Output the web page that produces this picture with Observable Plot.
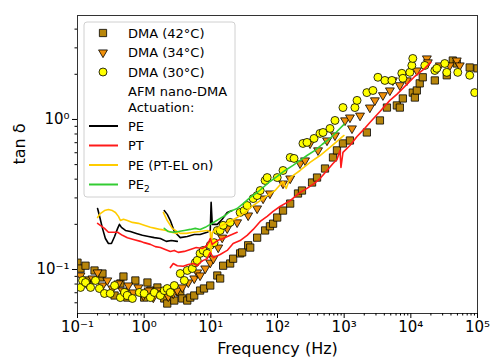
<!DOCTYPE html>
<html>
<head>
<meta charset="utf-8">
<script src="https://cdn.jsdelivr.net/npm/d3@7"></script>
<script src="https://cdn.jsdelivr.net/npm/@observablehq/plot@0.6"></script>
<style>
  html, body { margin: 0; padding: 0; background: #fff; }
  #chart { width: 492px; height: 358px; }
  svg { font-family: "DejaVu Sans", sans-serif; }
</style>
</head>
<body>
<div id="chart"></div>
<script>
// ---- DMA data (frequency in Hz, tan delta) ----
const dma42F = [0.1,0.111,0.132,0.141,0.18,0.22,0.237,0.36,0.44,0.489,0.56,0.738,1.0,1.12,1.24,1.58,2.0,2.22,2.83,3.48,3.73,4.43,4.92,5.64,6.9,7.9,9.8,12.5,13.8,15.3,19.5,21.6,27.5,29.5,36.3,39,49.5,65.2,77,85.9,99,121,155,203,233,330,392,516,680,780,959,1220,2190,3440,4380,6170,6840,7590,10700,11500,12300,13600,15100,22900,34600,42600,48900,76400,100000];
const dma42T = [0.111,0.1015,0.106,0.0845,0.0985,0.0885,0.094,0.0671,0.0807,0.0898,0.065,0.0845,0.065,0.0819,0.0724,0.0759,0.0641,0.0593,0.0621,0.0703,0.0641,0.0621,0.065,0.0671,0.0724,0.0747,0.0782,0.0912,0.0871,0.106,0.1096,0.118,0.128,0.130,0.145,0.140,0.163,0.182,0.194,0.202,0.222,0.247,0.275,0.321,0.336,0.38,0.41,0.471,0.558,0.622,0.692,0.724,0.819,0.985,1.20,1.24,1.20,1.38,1.51,1.40,1.56,1.74,1.91,1.82,1.97,2.47,2.36,2.22,2.19];

const dma34F = [0.111,0.136,0.168,0.20,0.237,0.28,0.334,0.411,0.472,0.58,0.689,0.819,0.973,1.16,1.37,1.58,1.87,2.3,2.73,3.14,3.73,4.59,5.64,6.25,6.9,8.24,9.8,10.9,12.9,14.8,17.6,24.8,36.3,49.5,60.8,77,121,155,218,259,308,406,553,728,1030,1220,1310,1730,2430,2890,3810,4850,5380,6840,8710,12300,17400,18000,27200,38400,48900,54200];
const dma34T = [0.0912,0.0807,0.0871,0.0955,0.0782,0.0845,0.0747,0.0807,0.0724,0.0782,0.0703,0.0759,0.0671,0.0724,0.065,0.0724,0.0692,0.0661,0.0692,0.0724,0.0759,0.0819,0.0871,0.0955,0.0912,0.1015,0.111,0.118,0.140,0.163,0.188,0.206,0.229,0.255,0.297,0.321,0.374,0.404,0.509,0.533,0.692,0.622,0.724,0.782,0.985,1.03,0.871,1.06,1.20,1.34,1.45,1.56,1.82,1.69,1.82,2.12,2.55,2.40,2.29,2.29,2.47,2.29];

const dma30F = [0.111,0.119,0.132,0.157,0.186,0.213,0.254,0.31,0.36,0.44,0.51,0.56,0.665,0.847,1.0,1.24,1.42,1.75,2.0,2.22,2.47,2.83,3.48,4.0,4.43,5.27,5.84,6.25,6.9,7.69,8.8,9.8,11.2,12.5,13.8,15.3,19.5,27.5,31.6,35,43.2,49.5,55,65.2,70,99,121,155,177,241,277,353,434,482,613,728,959,1450,1560,2190,2700,3210,4080,5200,7330,7590,9660,10350,10700,16200,22900,24500,32300,34600,50600,76400,90800];
const dma30T = [0.0759,0.0845,0.0819,0.0759,0.0845,0.0747,0.0692,0.0692,0.0782,0.065,0.0703,0.0671,0.0641,0.0703,0.0692,0.065,0.0703,0.0671,0.0724,0.0747,0.0703,0.0782,0.094,0.0845,0.0985,0.1015,0.111,0.115,0.128,0.134,0.128,0.145,0.151,0.182,0.182,0.197,0.206,0.240,0.247,0.267,0.297,0.311,0.336,0.392,0.410,0.41,0.457,0.558,0.55,0.692,0.703,0.747,0.807,0.819,0.871,0.985,1.20,1.20,1.34,1.51,1.56,1.91,1.82,1.82,2.03,1.88,2.06,2.29,2.55,2.29,2.12,2.19,2.36,2.06,2.06,1.97,1.51];

// ---- AFM nano-DMA curves ----
const peF1 = [0.20,0.213,0.237,0.262,0.291,0.323,0.36,0.40,0.426,0.456,0.524,0.62,0.764,0.94,1.16,1.42,1.75,2.15,2.55,3.14];
const peT1 = [0.255,0.229,0.188,0.161,0.149,0.149,0.166,0.188,0.20,0.191,0.182,0.179,0.174,0.169,0.166,0.163,0.161,0.154,0.156,0.154];
const peF2 = [2.0,2.22,2.47,2.83,3.48,4.43,5.64,6.9,8.8,9.8,10.1,10.5,12.5,14.8,17.6,20.9];
const peT2 = [0.247,0.233,0.212,0.179,0.163,0.166,0.171,0.171,0.177,0.182,0.280,0.20,0.20,0.216,0.240,0.247];

const ptF1 = [0.20,0.22,0.254,0.291,0.334,0.40,0.472,0.56,0.713,0.88,1.0,1.24,1.47,1.75,2.07,2.47,2.83,3.25,4.0,4.92,6.04,7.43,8.8,9.8,10.5,12.5,15.3,19.5,24.8];
const ptT1 = [0.203,0.197,0.188,0.177,0.177,0.177,0.169,0.163,0.158,0.154,0.151,0.147,0.142,0.140,0.136,0.132,0.134,0.130,0.132,0.136,0.140,0.138,0.145,0.161,0.147,0.156,0.161,0.169,0.177];
const ptF2 = [2.47,2.73,3.14,3.86,4.59,5.45,6.25,6.9,7.69,8.8,9.8,10.9,13.8,17.6,21.6,27.5,35,43.2,55,70,85.9,109,155,218,277,353,434,553,680,780,865,895,959,1220,1560,1910,2430,3440,4850,6170,8130,11500,16200,19900];
const ptT2 = [0.103,0.1096,0.106,0.105,0.108,0.1096,0.106,0.111,0.115,0.118,0.130,0.120,0.126,0.134,0.149,0.156,0.169,0.185,0.209,0.226,0.244,0.263,0.288,0.326,0.347,0.374,0.404,0.457,0.509,0.541,0.622,0.479,0.603,0.671,0.77,0.845,0.955,1.13,1.34,1.47,1.66,1.94,2.19,2.40];

const elF1 = [0.20,0.22,0.254,0.291,0.334,0.371,0.411,0.44,0.489,0.56,0.665,0.819,1.0,1.24,1.47,1.75,2.15,2.55,3.14];
const elT1 = [0.222,0.236,0.247,0.251,0.247,0.240,0.226,0.212,0.216,0.212,0.206,0.203,0.197,0.191,0.188,0.185,0.182,0.177,0.174];
const elF2 = [1.94,2.22,2.64,3.48,4.29,5.45,6.9,8.8,9.8,10.1,10.5,13.8,19.5,24.8,32.7,43.2,55,70,92,121,135,155,218,308,434,613,780,993];
const elT2 = [0.240,0.212,0.188,0.174,0.174,0.177,0.179,0.182,0.179,0.130,0.177,0.194,0.209,0.222,0.240,0.267,0.288,0.311,0.336,0.386,0.347,0.410,0.457,0.517,0.575,0.651,0.714,0.782];

const pe2F = [2.0,2.3,2.73,3.25,4.0,4.92,5.84,6.9,8.24,9.8,11.6,13.8,16.4,19.5,24.8,30.5,39,49.5,60.8,77,99,130,171,218,277,365,466,613,780,993];
const pe2T = [0.188,0.179,0.177,0.179,0.182,0.185,0.188,0.185,0.191,0.20,0.209,0.219,0.229,0.244,0.255,0.275,0.302,0.326,0.352,0.386,0.417,0.457,0.494,0.533,0.575,0.622,0.681,0.747,0.832,0.927];

// ---- tick values and labels ----
const xMajor = [0.1, 1, 10, 100, 1000, 10000, 100000];
const xMajorLabels = ["10⁻¹", "10⁰", "10¹", "10²", "10³", "10⁴", "10⁵"];
const yMajor = [0.1, 1];
const yMajorLabels = ["10⁻¹", "10⁰"];
const decadesX = [0.1, 1, 10, 100, 1000, 10000];
const decadesY = [0.01, 0.1, 1];
const xMinor = decadesX.flatMap(d => [2,3,4,5,6,7,8,9].map(m => m * d));
const yMinor = decadesY.flatMap(d => [2,3,4,5,6,7,8,9].map(m => m * d)).filter(v => v > 0.0509 && v < 4.93);

const legendItems = ["DMA (42°C)", "DMA (34°C)", "DMA (30°C)", "AFM nano-DMA", "Actuation:", "PE", "PT", "PE (PT-EL on)", "PE₂"];

// ---- build tables ----
const pts = (F, T) => F.map((f, i) => ({f, t: T[i]}));
const seg = (F, T, s) => F.map((f, i) => ({f, t: T[i], s}));
const xLab = new Map(xMajor.map((v, i) => [v, xMajorLabels[i]]));
const yLab = new Map(yMajor.map((v, i) => [v, yMajorLabels[i]]));

const C42 = "#b8860b", C34 = "#f0900a", C30 = "#ffff00";
const LBLACK = "#000000", LRED = "#ff1a1a", LYEL = "#ffcc00", LGRN = "#33cc33";

const lineOpts = (stroke) => ({x: "f", y: "t", z: "s", stroke, strokeWidth: 1.6, clip: true});

const chart = Plot.plot({
  width: 492,
  height: 358,
  marginLeft: 77,
  marginRight: 15,
  marginTop: 15,
  marginBottom: 45,
  x: {type: "log", domain: [0.1, 1e5]},
  y: {type: "log", domain: [0.0509, 4.93]},
  style: {fontFamily: "DejaVu Sans", fontSize: "15px", color: "#000", background: "#fff", overflow: "visible"},
  marks: [
    Plot.dot(pts(dma42F, dma42T), {x: "f", y: "t", symbol: "square", r: 4.1, fill: C42, stroke: "#000", strokeWidth: 0.8, clip: true}),
    Plot.dot(pts(dma34F, dma34T), {x: "f", y: "t", symbol: "triangle", rotate: 180, r: 3.3, fill: C34, stroke: "#000", strokeWidth: 0.8, clip: true}),
    Plot.dot(pts(dma30F, dma30T), {x: "f", y: "t", symbol: "circle", r: 4, fill: C30, stroke: "#000", strokeWidth: 0.8, clip: true}),
    Plot.line([...seg(peF1, peT1, "a"), ...seg(peF2, peT2, "b")], lineOpts(LBLACK)),
    Plot.line([...seg(elF1, elT1, "a"), ...seg(elF2, elT2, "b")], lineOpts(LYEL)),
    Plot.line([...seg(ptF1, ptT1, "a"), ...seg(ptF2, ptT2, "b")], lineOpts(LRED)),
    Plot.line(seg(pe2F, pe2T, "a"), lineOpts(LGRN)),
    Plot.frame({stroke: "#333", strokeWidth: 1}),
    Plot.axisX(xMinor, {anchor: "bottom", tickSize: 2.5, tickFormat: () => "", label: null}),
    Plot.axisY(yMinor, {anchor: "left", tickSize: 2.5, tickFormat: () => "", label: null}),
    Plot.axisX(xMajor, {anchor: "bottom", tickSize: 5, tickPadding: 3, tickFormat: d => xLab.get(d), fontSize: 15, label: null}),
    Plot.axisY(yMajor, {anchor: "left", tickSize: 5, tickPadding: 3, tickFormat: d => yLab.get(d), fontSize: 15, label: null}),
    Plot.text(["Frequency (Hz)"], {frameAnchor: "bottom", dy: 35, fontSize: 16, lineAnchor: "middle"}),
    Plot.text(["tan δ"], {frameAnchor: "left", dx: -58, rotate: -90, fontSize: 16, lineAnchor: "middle"})
  ]
});
document.getElementById("chart").appendChild(chart);

// ---- legend ----
const svg = d3.select(chart);
const lg = svg.append("g").attr("font-family", "DejaVu Sans").attr("font-size", 13).attr("text-anchor", "start");
lg.append("rect").attr("x", 84).attr("y", 22).attr("width", 151).attr("height", 175)
  .attr("rx", 3).attr("fill", "#fff").attr("fill-opacity", 0.85).attr("stroke", "#d0d0d0");
const ys = [33, 52.5, 72, 91.5, 107, 126, 145.5, 165, 184.5];
const sym = d3.symbol();
lg.append("path").attr("d", sym.type(d3.symbolSquare).size(Math.PI * 4.1 * 4.1)()).attr("transform", `translate(103,${ys[0]})`)
  .attr("fill", C42).attr("stroke", "#000").attr("stroke-width", 0.8);
lg.append("path").attr("d", sym.type(d3.symbolTriangle).size(Math.PI * 3.3 * 3.3)()).attr("transform", `translate(103,${ys[1]}) rotate(180)`)
  .attr("fill", C34).attr("stroke", "#000").attr("stroke-width", 0.8);
lg.append("circle").attr("cx", 103).attr("cy", ys[2]).attr("r", 4).attr("fill", C30).attr("stroke", "#000").attr("stroke-width", 0.8);
const lineCols = [LBLACK, LRED, LYEL, LGRN];
lineCols.forEach((c, i) => {
  lg.append("line").attr("x1", 89).attr("x2", 118).attr("y1", ys[5 + i]).attr("y2", ys[5 + i])
    .attr("stroke", c).attr("stroke-width", 2);
});
legendItems.forEach((t, i) => {
  const txt = lg.append("text").attr("x", 128).attr("y", ys[i]).attr("dy", "0.36em").attr("fill", "#000");
  if (t === "PE₂") {
    txt.append("tspan").text("PE");
    txt.append("tspan").attr("font-size", 9).attr("dy", "0.3em").text("2");
  } else {
    txt.text(t);
  }
});
</script>
</body>
</html>
